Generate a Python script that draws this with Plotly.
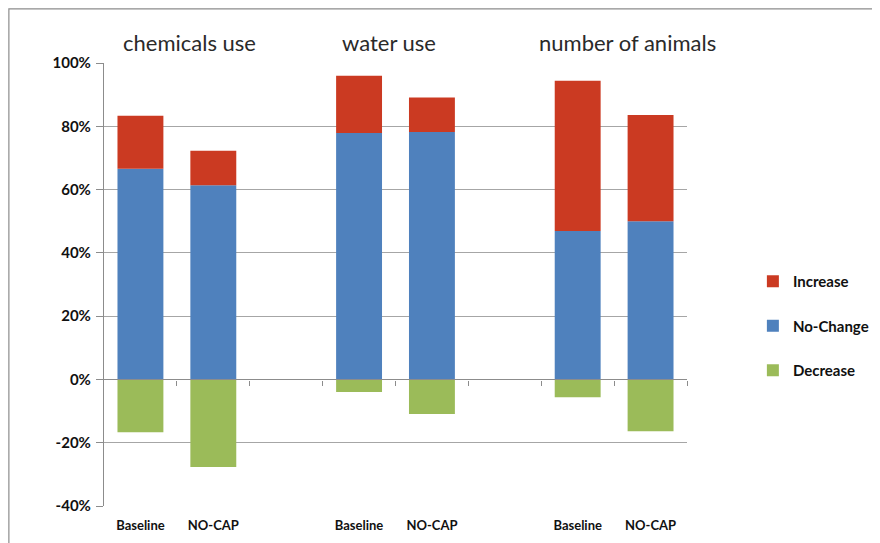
import plotly.graph_objects as go

# ---- data (percent of respondents) ----
groups = ["chemicals use", "water use", "number of animals"]
scenarios = ["Baseline", "NO-CAP"]
increase = [16.7, 10.9, 18.1, 10.9, 47.5, 33.6]
no_change = [66.6, 61.4, 77.9, 78.2, 46.9, 50.0]
decrease = [-16.7, -27.7, -4.0, -10.9, -5.6, -16.4]
y_ticks = [-40, -20, 0, 20, 40, 60, 80, 100]
y_tick_text = ["-40%", "-20%", "0%", "20%", "40%", "60%", "80%", "100%"]

# slot positions: each group gets 3 slots (third empty)
xs, xlabels = [], []
for gi, g in enumerate(groups):
    for si, s in enumerate(scenarios):
        xs.append(gi * 3 + si)
        xlabels.append(s)

RED = "#CB3A22"
BLUE = "#4F81BD"
GREEN = "#9BBB59"
FONT = "Lato, 'Liberation Sans', sans-serif"

L, T, PW, PH = 96, 55, 583, 443
W, H = 880, 543

fig = go.Figure()
fig.add_trace(go.Bar(x=xs, y=decrease, name="Decrease", marker_color=GREEN,
                     marker_line_width=0, legendrank=3, legendgroup="dec"))
fig.add_trace(go.Bar(x=xs, y=no_change, name="No-Change", marker_color=BLUE,
                     marker_line_width=0, legendrank=2, legendgroup="nc"))
fig.add_trace(go.Bar(x=xs, y=increase, name="Increase", marker_color=RED,
                     marker_line_width=0, legendrank=1, legendgroup="inc"))
# invisible trace for the zero-line axis with boundary ticks
fig.add_trace(go.Scatter(x=[-0.5, 7.5], y=[0, 0], mode="lines", line=dict(width=0),
                         xaxis="x2", yaxis="y", showlegend=False, hoverinfo="skip"))

title_pos = [0.68, 3.41, 6.68]
for g, xp in zip(groups, title_pos):
    fig.add_annotation(x=xp, y=1.0, xref="x", yref="paper", yanchor="bottom", yshift=5,
                       text=g, showarrow=False,
                       font=dict(family=FONT, size=22, color="#2a2a2a", weight=400))

# outer chart border (edge of chart area)
fig.add_shape(type="rect", xref="paper", yref="paper",
              x0=-L / PW + 0.0015, x1=1.6, y0=-0.3, y1=1 + T / PH - 0.002,
              line=dict(color="#8C8C8C", width=1.2), layer="below")

fig.update_layout(
    width=W, height=H,
    margin=dict(l=L, r=W - L - PW, t=T, b=H - T - PH),
    paper_bgcolor="white", plot_bgcolor="white",
    barmode="relative", bargap=0.37,
    font=dict(family=FONT, color="#222222"),
    xaxis=dict(range=[-0.5, 7.5], tickmode="array", tickvals=xs, ticktext=xlabels,
               showgrid=False, zeroline=False, showline=False, ticks="",
               ticklabelstandoff=10,
               tickfont=dict(size=13, color="#111111", family=FONT, weight="bold")),
    xaxis2=dict(range=[-0.5, 7.5], overlaying="x", anchor="free", position=40 / 140,
                tickmode="array", tickvals=[0.5 + i for i in range(8)],
                showticklabels=False, ticks="outside", ticklen=5, tickcolor="#8C8C8C",
                showline=True, linecolor="#8C8C8C", linewidth=1.2, showgrid=False,
                zeroline=False, side="bottom"),
    yaxis=dict(range=[-40, 100], tickmode="array", tickvals=y_ticks, ticktext=y_tick_text,
               showgrid=True, gridcolor="#A6A6A6", gridwidth=1.2,
               zeroline=False, showline=True, linecolor="#8C8C8C", linewidth=1.2,
               ticks="outside", ticklen=7, tickcolor="#8C8C8C", ticklabelstandoff=2,
               tickfont=dict(size=15, color="#111111", family=FONT, weight="bold")),
    legend=dict(x=1.113, y=0.544, xanchor="left", yanchor="top",
                traceorder="grouped", tracegroupgap=22,
                font=dict(size=15, color="#111111", family=FONT, weight="bold"),
                itemwidth=30),
    showlegend=True,
)

fig.write_html("out.html")
